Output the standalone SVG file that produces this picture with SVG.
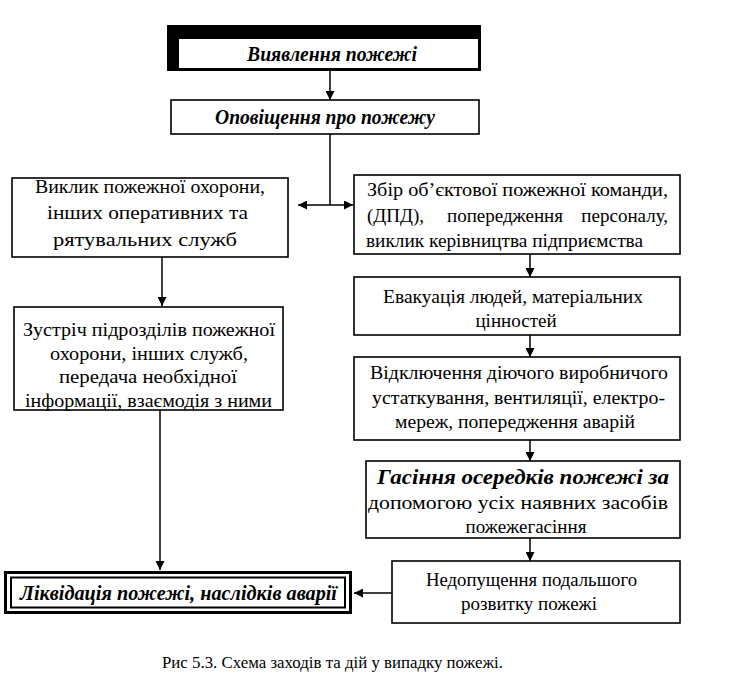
<svg xmlns="http://www.w3.org/2000/svg" width="734" height="692" viewBox="0 0 734 692">
<style>
  .box{fill:#fff;stroke:#000;stroke-width:1.6}
  .t{font-family:"Liberation Serif","Times New Roman",serif;font-size:19px;fill:#000}
  .bi{font-family:"Liberation Serif","Times New Roman",serif;font-size:20px;font-weight:bold;font-style:italic;fill:#000}
  .c{fill:none;stroke:#000;stroke-width:1.5}
</style>
<defs>
  <marker id="ah" viewBox="0 0 10 10" refX="10" refY="5" markerWidth="9" markerHeight="9" markerUnits="userSpaceOnUse" orient="auto-start-reverse">
    <path d="M0,0 L10,5 L0,10 Z" fill="#000"/>
  </marker>
</defs>
<rect width="734" height="692" fill="#fff"/>

<g id="connectors">
  <path class="c" d="M330,70 V100" marker-end="url(#ah)"/>
  <path class="c" d="M330,134 V205"/>
  <path class="c" d="M298,205 H353" marker-start="url(#ah)" marker-end="url(#ah)"/>
  <path class="c" d="M162,257 V306" marker-end="url(#ah)"/>
  <path class="c" d="M530,254 V277" marker-end="url(#ah)"/>
  <path class="c" d="M530,335 V357" marker-end="url(#ah)"/>
  <path class="c" d="M530,440 V461" marker-end="url(#ah)"/>
  <path class="c" d="M530,538 V561" marker-end="url(#ah)"/>
  <path class="c" d="M160,410 V570" marker-end="url(#ah)"/>
  <path class="c" d="M392,593 H354" marker-end="url(#ah)"/>
</g>

<g id="n1">
  <path d="M167,25 H481 V71 H167 Z M179,39 V68 H478 V39 Z" fill="#000" fill-rule="evenodd"/>
  <text class="bi" x="247" y="61" textLength="170" lengthAdjust="spacingAndGlyphs">Виявлення пожежі</text>
</g>

<g id="n2">
  <rect class="box" x="171" y="100" width="308" height="34"/>
  <text class="bi" x="215" y="124" textLength="220" lengthAdjust="spacingAndGlyphs">Оповіщення про пожежу</text>
</g>

<g id="n3">
  <rect class="box" x="12" y="178" width="276" height="79"/>
  <text class="t" x="35" y="193" textLength="230" lengthAdjust="spacingAndGlyphs">Виклик пожежної охорони,</text>
  <text class="t" x="47" y="219" textLength="201" lengthAdjust="spacingAndGlyphs">інших оперативних та</text>
  <text class="t" x="53" y="246" textLength="184" lengthAdjust="spacingAndGlyphs">рятувальних служб</text>
</g>

<g id="n4">
  <rect class="box" x="354" y="175" width="326" height="79"/>
  <text class="t" x="367" y="196" textLength="301" lengthAdjust="spacingAndGlyphs">Збір об’єктової пожежної команди,</text>
  <text class="t" x="367" y="222">(ДПД),</text>
  <text class="t" x="505" y="222" text-anchor="middle">попередження</text>
  <text class="t" x="668" y="222" text-anchor="end">персоналу,</text>
  <text class="t" x="366" y="247" textLength="277" lengthAdjust="spacingAndGlyphs">виклик керівництва підприємства</text>
</g>

<g id="n5">
  <rect class="box" x="14" y="307" width="269" height="103"/>
  <text class="t" x="23" y="336" textLength="252" lengthAdjust="spacingAndGlyphs">Зустріч підрозділів пожежної</text>
  <text class="t" x="50" y="360" textLength="198" lengthAdjust="spacingAndGlyphs">охорони, інших служб,</text>
  <text class="t" x="59" y="383" textLength="178" lengthAdjust="spacingAndGlyphs">передача необхідної</text>
  <text class="t" x="25" y="407" textLength="247" lengthAdjust="spacingAndGlyphs">інформації, взаємодія з ними</text>
</g>

<g id="n6">
  <rect x="5.5" y="572.5" width="345" height="40" fill="#fff" stroke="#000" stroke-width="3"/>
  <rect x="11" y="577.5" width="334" height="30" fill="none" stroke="#000" stroke-width="2"/>
  <text class="bi" x="20" y="600" textLength="317" lengthAdjust="spacingAndGlyphs">Ліквідація пожежі, наслідків аварії</text>
</g>

<g id="n7">
  <rect class="box" x="354" y="277" width="326" height="58"/>
  <text class="t" x="383" y="303" textLength="260" lengthAdjust="spacingAndGlyphs">Евакуація людей, матеріальних</text>
  <text class="t" x="516" y="327" text-anchor="middle">цінностей</text>
</g>

<g id="n8">
  <rect class="box" x="354" y="357" width="326" height="83"/>
  <text class="t" x="370" y="379" textLength="298" lengthAdjust="spacingAndGlyphs">Відключення діючого виробничого</text>
  <text class="t" x="372" y="404" textLength="293" lengthAdjust="spacingAndGlyphs">устаткування, вентиляції, електро-</text>
  <text class="t" x="395" y="428" textLength="240" lengthAdjust="spacingAndGlyphs">мереж, попередження аварій</text>
</g>

<g id="n9">
  <rect class="box" x="366" y="461" width="314" height="77"/>
  <text class="bi" x="377" y="484" textLength="292" lengthAdjust="spacingAndGlyphs">Гасіння осередків пожежі за</text>
  <text class="t" x="368" y="509" textLength="300" lengthAdjust="spacingAndGlyphs">допомогою усіх наявних засобів</text>
  <text class="t" x="526" y="533" text-anchor="middle">пожежегасіння</text>
</g>

<g id="n10">
  <rect class="box" x="392" y="561" width="288" height="62"/>
  <text class="t" x="426" y="586" textLength="211" lengthAdjust="spacingAndGlyphs">Недопущення подальшого</text>
  <text class="t" x="529" y="610" text-anchor="middle">розвитку пожежі</text>
</g>

<text class="t" x="162" y="668" style="font-size:17px" textLength="341" lengthAdjust="spacingAndGlyphs">Рис 5.3. Схема заходів та дій у випадку пожежі.</text>
</svg>
